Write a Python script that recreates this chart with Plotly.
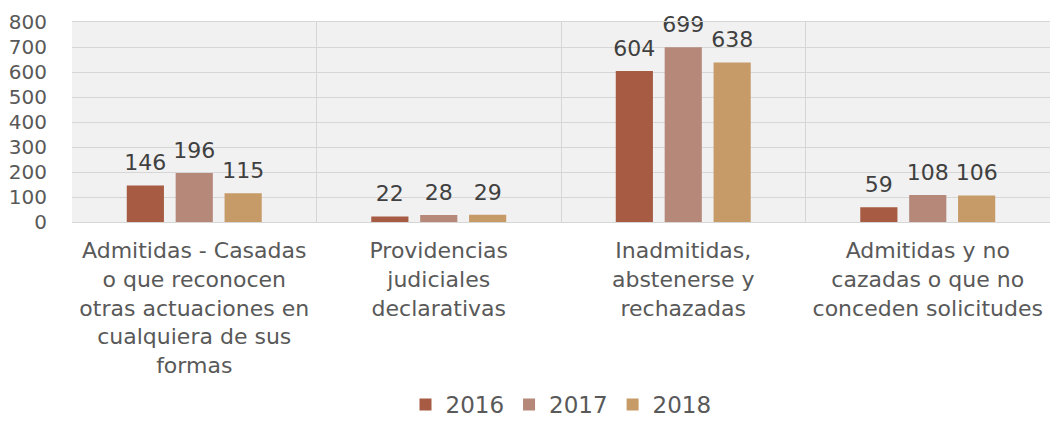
import plotly.graph_objects as go

categories = [
    "Admitidas - Casadas<br>o que reconocen<br>otras actuaciones en<br>cualquiera de sus<br>formas",
    "Providencias<br>judiciales<br>declarativas",
    "Inadmitidas,<br>abstenerse y<br>rechazadas",
    "Admitidas y no<br>cazadas o que no<br>conceden solicitudes",
]
series_names = ["2016", "2017", "2018"]
values_2016 = [146, 22, 604, 59]
values_2017 = [196, 28, 699, 108]
values_2018 = [115, 29, 638, 106]
colors = ["#A65B42", "#B5887A", "#C79B67"]
y_ticks = [0, 100, 200, 300, 400, 500, 600, 700, 800]

FONT = "DejaVu Sans"
fig = go.Figure()
for name, vals, col in zip(series_names, [values_2016, values_2017, values_2018], colors):
    fig.add_trace(go.Bar(
        x=categories, y=vals, name=name,
        marker=dict(color=col, line=dict(width=0)),
        offsetgroup=name, alignmentgroup="g",
    ))
for name, vals in zip(series_names, [values_2016, values_2017, values_2018]):
    fig.add_trace(go.Scatter(
        x=categories, y=vals, mode="markers+text", showlegend=False,
        text=[str(v) for v in vals], textposition="top center",
        textfont=dict(size=22, color="#404040", family=FONT),
        marker=dict(size=14, opacity=0),
        offsetgroup=name, alignmentgroup="g",
        cliponaxis=False, hoverinfo="skip",
    ))

fig.update_layout(
    width=1052, height=426,
    margin=dict(l=72, r=2, t=22, b=204, autoexpand=False),
    barmode="group", bargap=0.4, bargroupgap=0.24,
    scattermode="group", scattergap=0.4,
    plot_bgcolor="#F1F1F1", paper_bgcolor="white",
    font=dict(family=FONT, color="#595959", size=20),
    showlegend=True,
    legend=dict(orientation="h", x=0.5, xanchor="center", yref="container",
                y=-0.016, yanchor="bottom", bgcolor="rgba(0,0,0,0)",
                font=dict(size=23, color="#595959", family=FONT), itemwidth=30,
                traceorder="normal"),
)
fig.update_xaxes(
    tickson="boundaries", showgrid=True, gridcolor="#D6D6D6", gridwidth=1,
    showline=True, linecolor="#D6D6D6", mirror=True, ticks="",
    ticklabelstandoff=9,
    tickfont=dict(size=22, color="#595959", family=FONT),
)
fig.update_yaxes(
    range=[0, 800], tickvals=y_ticks, showgrid=True, gridcolor="#D6D6D6", gridwidth=1,
    zeroline=False, showline=False, ticks="", ticklabelstandoff=24,
    tickfont=dict(size=20, color="#595959", family=FONT),
)
fig.write_html("out.html")
